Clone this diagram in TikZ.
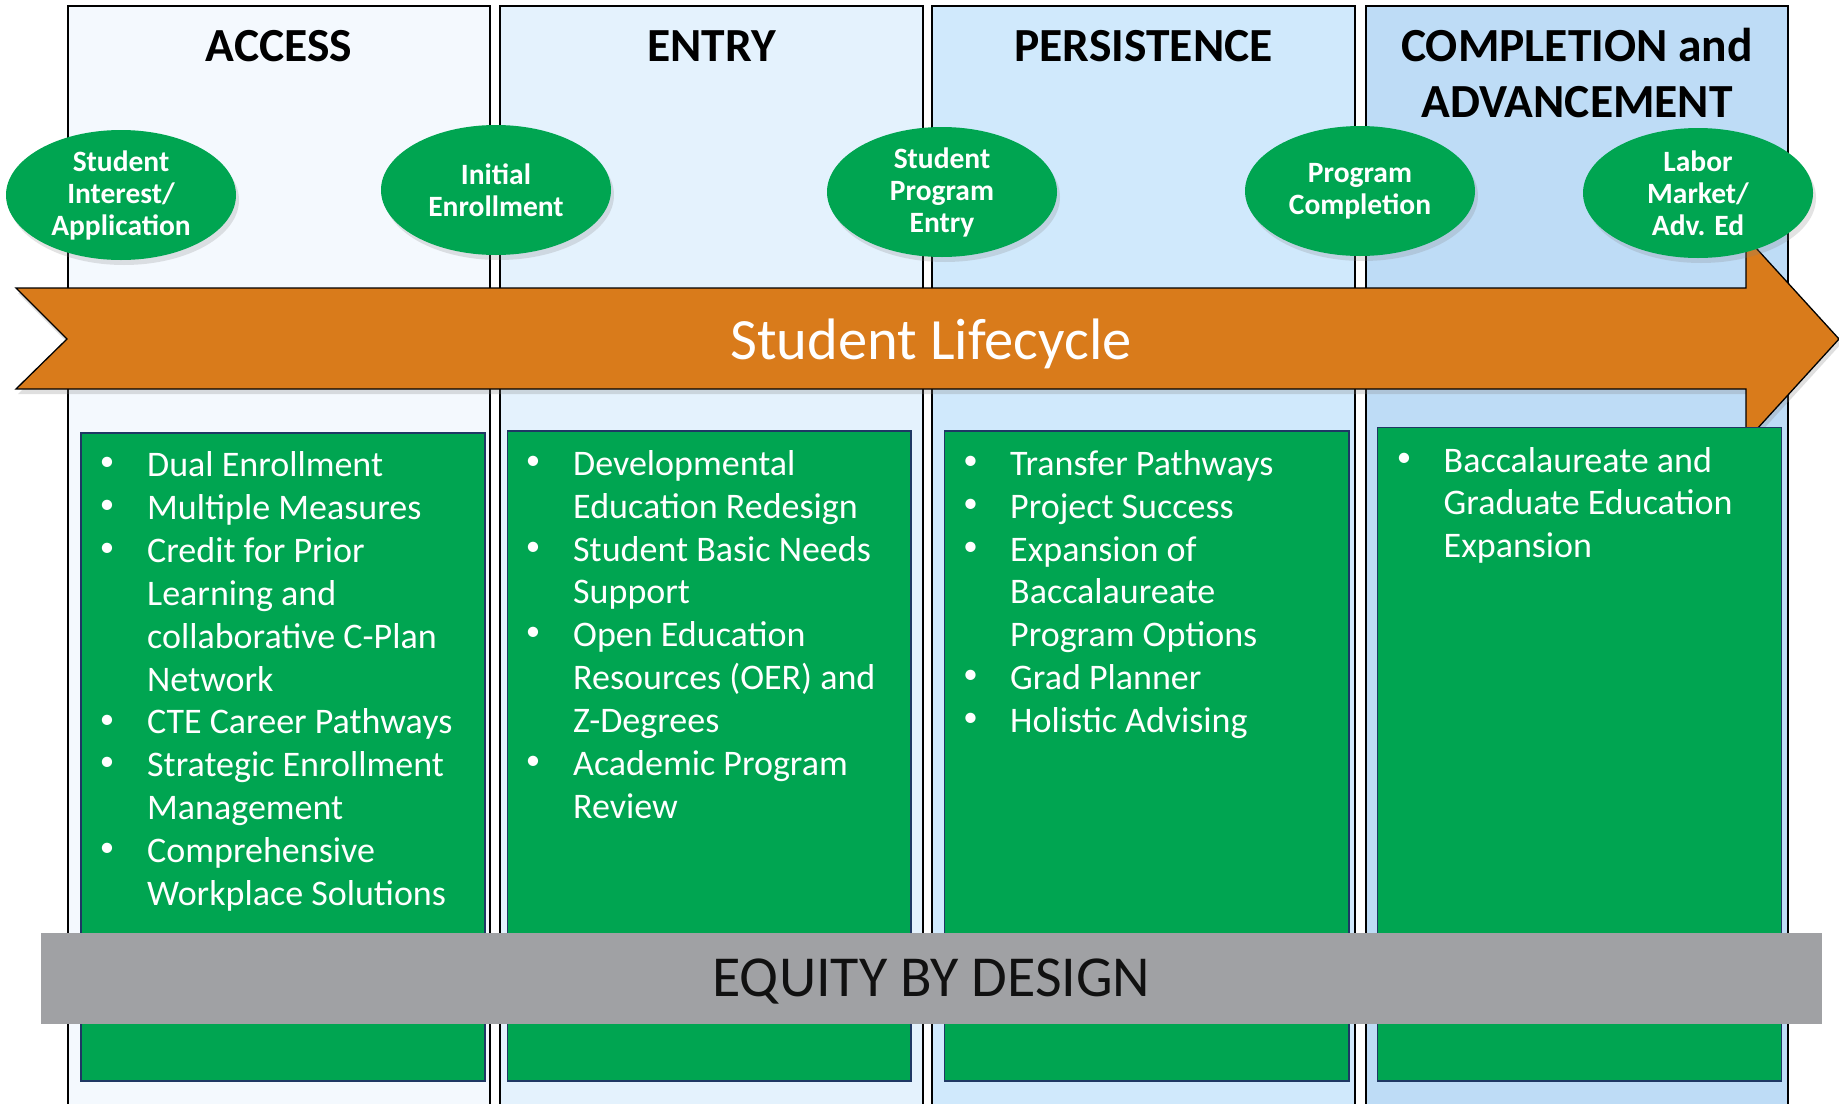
\documentclass[tikz,border=0pt]{standalone}
\usepackage{fontspec}
\setmainfont{Carlito}
\usetikzlibrary{shadows,shapes.geometric}
\definecolor{colA}{HTML}{F4F9FE}
\definecolor{colB}{HTML}{E4F2FD}
\definecolor{colC}{HTML}{D0E9FC}
\definecolor{colD}{HTML}{BEDCF6}
\definecolor{grn}{HTML}{00A551}
\definecolor{navy}{HTML}{1F3864}
\definecolor{orng}{HTML}{D97B1B}
\definecolor{gry}{HTML}{A0A1A4}
\definecolor{ink}{HTML}{111111}
\newcommand\mybulletlist[5]{%
  \foreach \b/\t [count=\i] in {#5} {%
    \node[itemtxt, anchor=base west] (#4-\i) at (#2, {#3+42.86*(\i-1)}) {\t};
    \ifnum\b=1
      \node[bul, anchor=center] (#4-b\i) at (#1, {#3+42.86*(\i-1)-12.6}) {\textbullet};
    \fi
  }%
}
\begin{document}
\begin{tikzpicture}[x=1pt,y=-1pt,
  colbox/.style={draw=black, line width=1.6pt},
  gbox/.style={fill=grn, draw=navy, line width=1.5pt},
  head/.style={font=\fontsize{47.5}{54}\selectfont\bfseries, text=black, inner sep=0pt, anchor=base},
  oval/.style={ellipse, fill=grn, minimum width=230pt, minimum height=130pt, inner sep=0pt,
    align=center, text=white, font=\fontsize{29.5}{32}\selectfont\bfseries,
    drop shadow={opacity=0.22, shadow xshift=3pt, shadow yshift=-5pt}},
  itemtxt/.style={font=\fontsize{36}{43}\selectfont, text=white, inner sep=0pt},
  bul/.style={font=\fontsize{29}{30}\selectfont, text=white, inner sep=0pt},
  arrowshape/.style={fill=orng, draw=black, line width=1.3pt, line join=miter,
    drop shadow={opacity=0.25, shadow xshift=2pt, shadow yshift=-5pt}},
]
\useasboundingbox (0,0) rectangle (1839,1103);
\clip (0,0) rectangle (1839,1103);
\fill[white] (0,0) rectangle (1839,1103);

% columns
\path[colbox, fill=colA] (68,6) rectangle (490,1130);
\path[colbox, fill=colB] (500,6) rectangle (923,1130);
\path[colbox, fill=colC] (932,6) rectangle (1355,1130);
\path[colbox, fill=colD] (1366,6) rectangle (1788,1130);

% headings
\node[head] (h1) at (279,61) {ACCESS};
\node[head] (h2) at (711.5,61) {ENTRY};
\node[head] (h3) at (1143.5,61) {PERSISTENCE};
\node[head] (h4a) at (1577,61) {COMPLETION and};
\node[head] (h4b) at (1577,117) {ADVANCEMENT};

% lifecycle arrow
\path[arrowshape] (16,288) -- (1746,288) -- (1746,237) -- (1839,339) -- (1746,441)
  -- (1746,389) -- (16,389) -- (67,339) -- cycle;
\node[font=\fontsize{58.5}{64}\selectfont, text=white, inner sep=0pt, anchor=base]
  (life) at (931,359) {Student Lifecycle};

% milestones
\node[oval] (e1) at (121,195) {Student\\Interest/\\Application};
\node[oval] (e2) at (496,190) {Initial\\Enrollment};
\node[oval] (e3) at (942,192) {Student\\Program\\Entry};
\node[oval] (e4) at (1360,191) {Program\\Completion};
\node[oval] (e5) at (1698,193) {Labor\\Market/\\Adv. Ed};

% green boxes
\path[gbox] (81,433) rectangle (485,1081);
\path[gbox] (507.6,431) rectangle (910.8,1081);
\path[gbox] (944.6,431) rectangle (1349,1081);
\path[gbox] (1377.7,427.5) rectangle (1781.5,1081);

\mybulletlist{107}{147}{476.8}{ba}{1/Dual Enrollment, 1/Multiple Measures, 1/Credit for Prior,
  0/Learning and, 0/collaborative C-Plan, 0/Network, 1/CTE Career Pathways,
  1/Strategic Enrollment, 0/Management, 1/Comprehensive, 0/Workplace Solutions}
\mybulletlist{533}{573}{475.4}{bb}{1/Developmental, 0/Education Redesign, 1/Student Basic Needs,
  0/Support, 1/Open Education, 0/Resources (OER) and, 0/Z-Degrees, 1/Academic Program, 0/Review}
\mybulletlist{970.5}{1010}{475.4}{bc}{1/Transfer Pathways, 1/Project Success, 1/Expansion of,
  0/Baccalaureate, 0/Program Options, 1/Grad Planner, 1/Holistic Advising}
\mybulletlist{1404}{1443.5}{472}{bd}{1/Baccalaureate and, 0/Graduate Education, 0/Expansion}

% equity bar
\fill[gry] (41,932.7) rectangle (1822,1024);
\node[font=\fontsize{58}{64}\selectfont, text=ink, inner sep=0pt, anchor=base]
  (equity) at (931.5,996.7) {EQUITY BY DESIGN};
\end{tikzpicture}
\end{document}
